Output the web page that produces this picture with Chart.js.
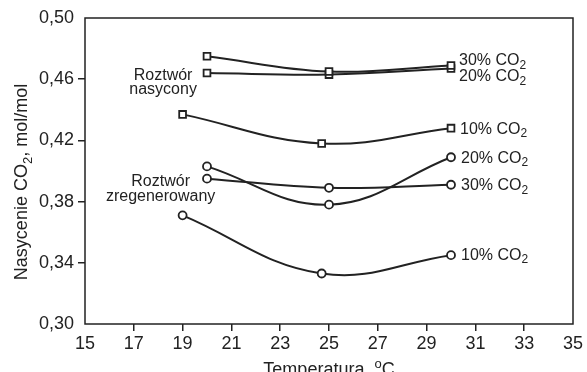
<!DOCTYPE html>
<html lang="pl">
<head>
  <meta charset="UTF-8" />
  <title>Nasycenie CO2</title>
  <script src="https://cdn.jsdelivr.net/npm/chart.js"></script>
  <style>
    html, body { margin: 0; padding: 0; background: #fff; }
    #wrap { width: 587px; height: 372px; }
  </style>
</head>
<body>
<div id="wrap"><canvas id="chart" width="587" height="372"></canvas></div>

<script>
  // temperatures (x) for each curve
  const tempsMid = [20, 25, 30];
  const tempsLow = [19, 24.7, 30];

  // saturated solution (squares)
  const sat30 = [0.475, 0.465, 0.469];
  const sat20 = [0.464, 0.463, 0.467];
  const sat10 = [0.437, 0.418, 0.428];

  // regenerated solution (circles)
  const reg20 = [0.403, 0.378, 0.409];
  const reg30 = [0.395, 0.389, 0.391];
  const reg10 = [0.371, 0.333, 0.345];

  const seriesNames = ["30% CO", "20% CO", "10% CO", "20% CO", "30% CO", "10% CO"];
  const xTicks = [15, 17, 19, 21, 23, 25, 27, 29, 31, 33, 35];
  const yTicks = [0.30, 0.34, 0.38, 0.42, 0.46, 0.50];

  const INK = "#222";
  const FONT = "Liberation Sans, Arial, sans-serif";

  function pts(xs, ys) {
    return xs.map((x, i) => ({ x: x, y: ys[i] }));
  }

  function series(name, xs, ys, shape, dy, dx) {
    return {
      label: name,
      data: pts(xs, ys),
      borderColor: INK,
      borderWidth: 2,
      tension: 0.4,
      pointStyle: shape,
      pointRadius: shape === "rect" ? 4.8 : 4,
      pointBackgroundColor: "#fff",
      pointBorderColor: INK,
      pointBorderWidth: 1.8,
      labelDy: dy,
      labelDx: dx
    };
  }

  // text with a sub- or superscript part
  function richText(ctx, parts, x, y, size, align) {
    const small = Math.round(size * 0.72);
    let total = 0;
    parts.forEach(p => {
      ctx.font = (p.sub || p.sup ? small : size) + "px " + FONT;
      p.w = ctx.measureText(p.t).width;
      total += p.w;
    });
    let cx = align === "center" ? x - total / 2 : x;
    parts.forEach(p => {
      ctx.font = (p.sub || p.sup ? small : size) + "px " + FONT;
      let yy = y;
      if (p.sub) yy = y + size * 0.3;
      if (p.sup) yy = y - size * 0.38;
      ctx.fillText(p.t, cx, yy);
      cx += p.w;
    });
  }

  const annotations = {
    id: "annotations",
    afterDraw(chart) {
      const ctx = chart.ctx;
      const a = chart.chartArea;
      const xs = chart.scales.x;
      const ys = chart.scales.y;
      ctx.save();

      // frame
      ctx.strokeStyle = INK;
      ctx.lineWidth = 1.5;
      ctx.strokeRect(a.left, a.top, a.right - a.left, a.bottom - a.top);

      ctx.fillStyle = INK;
      ctx.textAlign = "left";
      ctx.textBaseline = "middle";

      // series labels at the right end of each curve
      chart.data.datasets.forEach(ds => {
        const last = ds.data[ds.data.length - 1];
        const px = xs.getPixelForValue(last.x) + ds.labelDx;
        const py = ys.getPixelForValue(last.y) + ds.labelDy;
        richText(ctx, [{ t: ds.label }, { t: "2", sub: true }], px, py, 16, "left");
      });

      // group labels
      const gx = xs.getPixelForValue(18.2);
      richText(ctx, [{ t: "Roztwór" }], gx, ys.getPixelForValue(0.4625), 16, "center");
      richText(ctx, [{ t: "nasycony" }], gx, ys.getPixelForValue(0.4530), 16, "center");
      const rx = xs.getPixelForValue(18.1);
      richText(ctx, [{ t: "Roztwór" }], rx, ys.getPixelForValue(0.3928), 16, "center");
      richText(ctx, [{ t: "zregenerowany" }], rx, ys.getPixelForValue(0.3830), 16, "center");

      // axis titles
      ctx.textBaseline = "alphabetic";
      richText(ctx, [{ t: "Temperatura, " }, { t: "o", sup: true }, { t: "C" }],
        (a.left + a.right) / 2, 375, 18, "center");

      ctx.translate(27, 182);
      ctx.rotate(-Math.PI / 2);
      richText(ctx, [{ t: "Nasycenie CO" }, { t: "2", sub: true }, { t: ", mol/mol" }],
        0, 0, 18, "center");

      ctx.restore();
    }
  };

  function tickColor(c, ends) {
    return ends.includes(c.tick && c.tick.value) ? "rgba(0,0,0,0)" : INK;
  }

  new Chart(document.getElementById("chart").getContext("2d"), {
    type: "line",
    data: {
      datasets: [
        series(seriesNames[0], tempsMid, sat30, "rect", -5, 8),
        series(seriesNames[1], tempsMid, sat20, "rect", 8, 8),
        series(seriesNames[2], tempsLow, sat10, "rect", 1, 9),
        series(seriesNames[3], tempsMid, reg20, "circle", 1, 10),
        series(seriesNames[4], tempsMid, reg30, "circle", 1, 10),
        series(seriesNames[5], tempsLow, reg10, "circle", 0, 10)
      ]
    },
    plugins: [annotations],
    options: {
      responsive: false,
      animation: false,
      layout: { padding: { left: 0, right: 14, top: 18, bottom: 0 } },
      plugins: { legend: { display: false }, tooltip: { enabled: false } },
      scales: {
        x: {
          type: "linear",
          min: 15,
          max: 35,
          afterFit: s => { s.height = 48; },
          afterBuildTicks: s => { s.ticks = xTicks.map(v => ({ value: v })); },
          border: { display: false },
          grid: {
            drawOnChartArea: false,
            drawTicks: true,
            tickLength: 7,
            lineWidth: 1.5,
            color: c => tickColor(c, [15, 35])
          },
          ticks: {
            color: INK,
            padding: 2,
            maxRotation: 0,
            font: { family: FONT, size: 18 },
            callback: v => String(v)
          }
        },
        y: {
          type: "linear",
          min: 0.30,
          max: 0.50,
          afterFit: s => { s.width = 85; },
          afterBuildTicks: s => { s.ticks = yTicks.map(v => ({ value: v })); },
          border: { display: false },
          grid: {
            drawOnChartArea: false,
            drawTicks: true,
            tickLength: 7,
            lineWidth: 1.5,
            color: c => tickColor(c, [0.30, 0.50])
          },
          ticks: {
            color: INK,
            padding: 4,
            font: { family: FONT, size: 18 },
            callback: v => Number(v).toFixed(2).replace(".", ",")
          }
        }
      }
    }
  });
</script>
</body>
</html>
